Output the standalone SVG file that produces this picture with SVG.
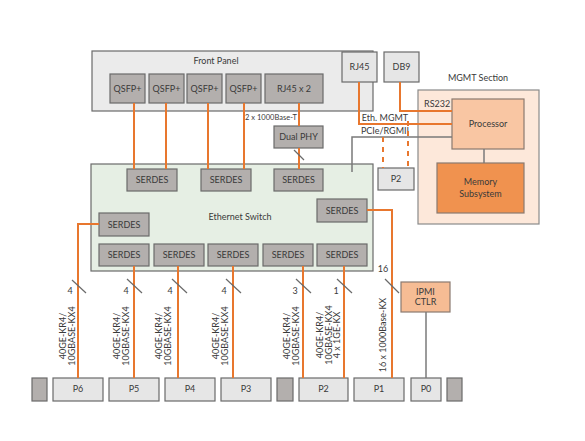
<svg xmlns="http://www.w3.org/2000/svg" width="585" height="441" viewBox="0 0 585 441">
<style>
text{font-family:Lato,"Liberation Sans",sans-serif;font-size:9px;fill:#3a3a3a}
.c{text-anchor:middle}
.dark{fill:#b3afad;stroke:#6a6a6a;stroke-width:1.2}
.port{fill:#e6e6e6;stroke:#6a6a6a;stroke-width:1.2}
.or{stroke:#e8772e;stroke-width:2;fill:none}
.ord{stroke:#e8772e;stroke-width:2;fill:none;stroke-dasharray:5,5}
.gr{stroke:#7a7a7a;stroke-width:1.5;fill:none}
.sl{stroke:#6a6a6a;stroke-width:1.2}
</style>
<rect width="585" height="441" fill="#ffffff"/>

<g id="front-panel">
<rect x="92" y="51" width="281" height="60" fill="#ebebeb" stroke="#6a6a6a" stroke-width="1.2"/>
<text x="216" y="64" class="c">Front Panel</text>
</g>
<g id="qsfp1"><rect x="110" y="74" width="35" height="29" class="dark"/><text x="127.5" y="92" class="c">QSFP+</text></g>
<g id="qsfp2"><rect x="149" y="74" width="35" height="29" class="dark"/><text x="166.5" y="92" class="c">QSFP+</text></g>
<g id="qsfp3"><rect x="187" y="74" width="35" height="29" class="dark"/><text x="204.5" y="92" class="c">QSFP+</text></g>
<g id="qsfp4"><rect x="226" y="74" width="35" height="29" class="dark"/><text x="243.5" y="92" class="c">QSFP+</text></g>
<g id="rj45x2"><rect x="265" y="74" width="58" height="29" class="dark"/><text x="294" y="92" class="c">RJ45 x 2</text></g>

<g id="dual-phy"><rect x="274" y="126" width="49" height="22" class="dark"/><text x="298.5" y="140" class="c">Dual PHY</text></g>

<g id="rj45"><rect x="342" y="52" width="35" height="30" class="port"/><text x="359.5" y="70" class="c">RJ45</text></g>
<g id="db9"><rect x="384" y="52" width="35" height="30" class="port"/><text x="401.5" y="70" class="c">DB9</text></g>

<g id="mgmt-section">
<rect x="418" y="90" width="121" height="134" fill="#fde8da" stroke="#8a8a8a" stroke-width="1.2"/>
<text x="478" y="81" class="c">MGMT Section</text>
</g>
<g id="processor"><rect x="452" y="99" width="72" height="50" fill="#f9c6a3" stroke="#8a7a70" stroke-width="1.2"/><text x="488" y="127" class="c">Processor</text></g>
<g id="memory"><rect x="437" y="163" width="87" height="50" fill="#f0924f" stroke="#8a7a70" stroke-width="1.2"/><text x="480.5" y="185" class="c">Memory</text><text x="480.5" y="196.5" class="c">Subsystem</text></g>

<g id="p2-mgmt"><rect x="378" y="168" width="36" height="22" class="port"/><text x="396" y="182" class="c">P2</text></g>

<g id="ethernet-switch">
<rect x="91" y="164" width="282" height="107" fill="#e6efe4" stroke="#6a6a6a" stroke-width="1.2"/>
<text x="240" y="220" class="c">Ethernet Switch</text>
</g>
<g id="serdes-t1"><rect x="127" y="169" width="50" height="22" class="dark"/><text x="152" y="183" class="c">SERDES</text></g>
<g id="serdes-t2"><rect x="201" y="169" width="50" height="22" class="dark"/><text x="226" y="183" class="c">SERDES</text></g>
<g id="serdes-t3"><rect x="274" y="169" width="49" height="22" class="dark"/><text x="298.5" y="183" class="c">SERDES</text></g>
<g id="serdes-r"><rect x="317" y="199" width="50" height="23" class="dark"/><text x="342" y="214" class="c">SERDES</text></g>
<g id="serdes-l"><rect x="99" y="213" width="50" height="23" class="dark"/><text x="124" y="228" class="c">SERDES</text></g>
<g id="serdes-b1"><rect x="99" y="244" width="50" height="22" class="dark"/><text x="124" y="258" class="c">SERDES</text></g>
<g id="serdes-b2"><rect x="154" y="244" width="50" height="22" class="dark"/><text x="179" y="258" class="c">SERDES</text></g>
<g id="serdes-b3"><rect x="208" y="244" width="50" height="22" class="dark"/><text x="233" y="258" class="c">SERDES</text></g>
<g id="serdes-b4"><rect x="263" y="244" width="50" height="22" class="dark"/><text x="288" y="258" class="c">SERDES</text></g>
<g id="serdes-b5"><rect x="317" y="244" width="50" height="22" class="dark"/><text x="342" y="258" class="c">SERDES</text></g>

<g id="ipmi"><rect x="401" y="282" width="49" height="30" fill="#f6bc94" stroke="#8a7a70" stroke-width="1.2"/><text x="425.5" y="295" class="c">IPMI</text><text x="425.5" y="305" class="c">CTLR</text></g>

<g id="port-blank1"><rect x="32" y="378" width="15" height="23" class="dark"/></g>
<g id="p6"><rect x="53" y="378" width="50" height="23" class="port"/><text x="78" y="392" class="c">P6</text></g>
<g id="p5"><rect x="109" y="378" width="50" height="23" class="port"/><text x="134" y="392" class="c">P5</text></g>
<g id="p4"><rect x="165" y="378" width="50" height="23" class="port"/><text x="190" y="392" class="c">P4</text></g>
<g id="p3"><rect x="221" y="378" width="50" height="23" class="port"/><text x="246" y="392" class="c">P3</text></g>
<g id="port-blank2"><rect x="277" y="378" width="16" height="23" class="dark"/></g>
<g id="p2"><rect x="299" y="378" width="49" height="23" class="port"/><text x="323.5" y="392" class="c">P2</text></g>
<g id="p1"><rect x="354" y="378" width="50" height="23" class="port"/><text x="379" y="392" class="c">P1</text></g>
<g id="p0"><rect x="411" y="378" width="30" height="23" class="port"/><text x="426" y="392" class="c">P0</text></g>
<g id="port-blank3"><rect x="447" y="378" width="15" height="23" class="dark"/></g>

<g id="connectors">
<path class="or" d="M134 103V169M166 103V169M208 103V169M244 103V169M299 103V126M299 148V169"/>
<line class="sl" x1="294" y1="150" x2="304" y2="160"/>
<text x="271" y="120" class="c" style="font-size:7.5px">2 x 1000Base-T</text>

<path class="or" d="M359 82V124H452M400 82V111H452"/>
<text x="424" y="107">RS232</text>
<text x="385" y="121" class="c">Eth. MGMT</text>
<text x="385" y="134" class="c">PCIe/RGMII</text>
<path class="gr" d="M452 137H352V172"/>
<path class="ord" d="M383 137V168M408 121V168"/>
<path class="gr" d="M484 149V163"/>

<path class="or" d="M99 224H78V378"/>
<path class="or" d="M134 266V378M178 266V378M233 266V378M303 266V378M344 266V378"/>
<path class="or" d="M367 210H392V378"/>
<path class="gr" d="M426 312V378"/>

<g class="sl">
<line x1="72" y1="280" x2="86" y2="293"/>
<line x1="127" y1="279" x2="142" y2="293"/>
<line x1="172" y1="279" x2="187" y2="293"/>
<line x1="226" y1="279" x2="241" y2="293"/>
<line x1="296" y1="279" x2="311" y2="293"/>
<line x1="337" y1="279" x2="352" y2="293"/>
<line x1="385" y1="279" x2="399" y2="293"/>
</g>
<text x="70" y="294" class="c">4</text>
<text x="126" y="294" class="c">4</text>
<text x="170" y="294" class="c">4</text>
<text x="224" y="294" class="c">4</text>
<text x="295" y="294" class="c">3</text>
<text x="336" y="294" class="c">1</text>
<text x="383" y="272" class="c">16</text>

<text transform="translate(66,336) rotate(-90)" class="c"><tspan x="0" y="0">40GE-KR4/</tspan><tspan x="0" dy="9">10GBASE-KX4</tspan></text>
<text transform="translate(120,336) rotate(-90)" class="c"><tspan x="0" y="0">40GE-KR4/</tspan><tspan x="0" dy="9">10GBASE-KX4</tspan></text>
<text transform="translate(162,336) rotate(-90)" class="c"><tspan x="0" y="0">40GE-KR4/</tspan><tspan x="0" dy="9">10GBASE-KX4</tspan></text>
<text transform="translate(219,336) rotate(-90)" class="c"><tspan x="0" y="0">40GE-KR4/</tspan><tspan x="0" dy="9">10GBASE-KX4</tspan></text>
<text transform="translate(290,336) rotate(-90)" class="c"><tspan x="0" y="0">40GE-KR4/</tspan><tspan x="0" dy="9">10GBASE-KX4</tspan></text>
<text transform="translate(323,335) rotate(-90)" class="c"><tspan x="0" y="0">40GE-KR4/</tspan><tspan x="0" dy="8.5">10GBASE-KX4</tspan><tspan x="0" dy="8.5">4 x 1GE-KX</tspan></text>
<text transform="translate(386,335) rotate(-90)" class="c">16 x 1000Base-KX</text>
</g>
</svg>
